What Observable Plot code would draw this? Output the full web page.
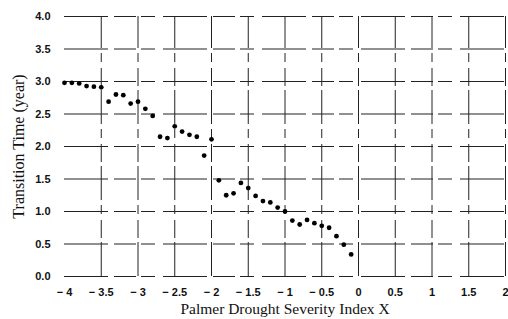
<!DOCTYPE html>
<html>
<head>
<meta charset="utf-8">
<script src="https://cdn.jsdelivr.net/npm/d3@7"></script>
<script src="https://cdn.jsdelivr.net/npm/@observablehq/plot@0.6"></script>
<style>
  html, body { margin: 0; padding: 0; background: #fff; overflow: hidden; }
  #chart svg { display: block; }
</style>
</head>
<body>
<div id="chart"></div>
<script>
// Palmer Drought Severity Index X (x) and transition time in years (y)
const pdsi = [-4.0, -3.9, -3.8, -3.7, -3.6, -3.5, -3.4, -3.3, -3.2, -3.1,
              -3.0, -2.9, -2.8, -2.7, -2.6, -2.5, -2.4, -2.3, -2.2, -2.1,
              -2.0, -1.9, -1.8, -1.7, -1.6, -1.5, -1.4, -1.3, -1.2, -1.1,
              -1.0, -0.9, -0.8, -0.7, -0.6, -0.5, -0.4, -0.3, -0.2, -0.1];
const transitionTime = [2.98, 2.98, 2.97, 2.93, 2.92, 2.91, 2.69, 2.80, 2.79, 2.66,
                        2.69, 2.58, 2.47, 2.15, 2.13, 2.31, 2.23, 2.18, 2.15, 1.86,
                        2.11, 1.48, 1.25, 1.28, 1.44, 1.36, 1.24, 1.16, 1.14, 1.06,
                        1.00, 0.86, 0.80, 0.87, 0.82, 0.78, 0.75, 0.62, 0.49, 0.34];
const xTicks = [-4, -3.5, -3, -2.5, -2, -1.5, -1, -0.5, 0, 0.5, 1, 1.5, 2];
const yTicks = [0, 0.5, 1, 1.5, 2, 2.5, 3, 3.5, 4];
const xGrid = [-3.5, -3, -2.5, -2, -1.5, -1, -0.5, 0, 0.5, 1, 1.5, 2];
const yGrid = [0, 0.5, 1, 1.5, 2, 2.5, 3, 3.5, 4];

const points = pdsi.map((x, i) => ({x, y: transitionTime[i]}));
const fmtX = d => d < 0 ? "\u2212 " + Math.abs(d) : String(d);

const chart = Plot.plot({
  width: 508,
  height: 319,
  marginLeft: 64,
  marginRight: 3,
  marginTop: 16,
  marginBottom: 43,
  style: {fontFamily: "'Liberation Sans', Arial, sans-serif", fontSize: "11px", color: "#111", background: "#fff", overflow: "visible"},
  x: {domain: [-4, 2]},
  y: {domain: [0, 4]},
  marks: [
    Plot.ruleX(xGrid, {y1: 0, y2: 4, stroke: "#222", strokeWidth: 1, strokeDasharray: "34,4,18,6,9,5"}),
    Plot.ruleY(yGrid, {x1: -4, x2: 2, stroke: "#222", strokeWidth: 1.2, strokeDasharray: "44,6,22,5,14,8"}),
    Plot.dot(points, {x: "x", y: "y", r: 2.4, fill: "#000", stroke: "none"}),
    Plot.axisX(xTicks, {tickSize: 0, tickPadding: 12, fontWeight: "bold", fontSize: 11, tickFormat: fmtX, label: null}),
    Plot.axisY(yTicks, {tickSize: 0, tickPadding: 14, fontWeight: "bold", fontSize: 11, tickFormat: d3.format(".1f"), label: null}),
    Plot.text(["Palmer Drought Severity Index X"], {frameAnchor: "bottom", dy: 37, fontFamily: "'Liberation Serif', 'Times New Roman', serif", fontSize: 15.5, fill: "#111"}),
    Plot.text(["Transition Time (year)"], {frameAnchor: "left", textAnchor: "middle", dx: -46, rotate: -90, fontFamily: "'Liberation Serif', 'Times New Roman', serif", fontSize: 16, fill: "#111"})
  ]
});
document.getElementById("chart").appendChild(chart);
</script>
</body>
</html>
